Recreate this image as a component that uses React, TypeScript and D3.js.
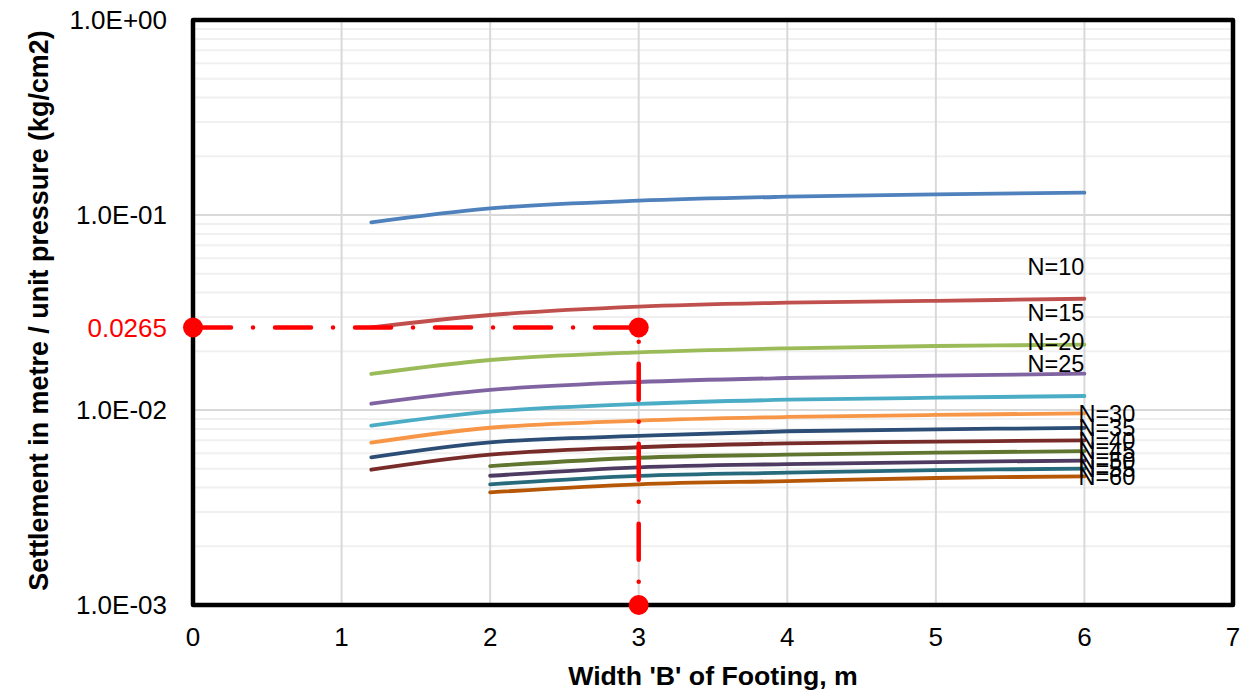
import React from "react";
import * as d3 from "d3";

const W = 1256;
const H = 691;

const xTicks = [0, 1, 2, 3, 4, 5, 6, 7];
const yMajorTicks = [1, 0.1, 0.01, 0.001];
const yTickLabels = ["1.0E+00", "1.0E-01", "1.0E-02", "1.0E-03"];

const xLong = [1.2, 2, 3, 4, 5, 6];
const xShort = [2, 3, 4, 5, 6];

const n5 = [0.0917, 0.1082, 0.1184, 0.1241, 0.1277, 0.1301];
const n10 = [0.0265, 0.0307, 0.0339, 0.0355, 0.0363, 0.0372];
const n15 = [0.0153, 0.01805, 0.01976, 0.02072, 0.02129, 0.02162];
const n20 = [0.01077, 0.01267, 0.01392, 0.01459, 0.01499, 0.01535];
const n25 = [0.00831, 0.0098, 0.01074, 0.01129, 0.01156, 0.0118];
const n30 = [0.0068, 0.00811, 0.00882, 0.00921, 0.00943, 0.00962];
const n35 = [0.00572, 0.00683, 0.00736, 0.00778, 0.00796, 0.00809];
const n40 = [0.00494, 0.0059, 0.00644, 0.00675, 0.00688, 0.00699];
const n45 = [0.00516, 0.00569, 0.0059, 0.00604, 0.00616];
const n50 = [0.0046, 0.00508, 0.00528, 0.00541, 0.0055];
const n55 = [0.00416, 0.00459, 0.00477, 0.00492, 0.005];
const n60 = [0.00378, 0.00416, 0.00432, 0.00448, 0.00457];

const seriesNames = ["N=5", "N=10", "N=15", "N=20", "N=25", "N=30", "N=35", "N=40", "N=45", "N=50", "N=55", "N=60"];
const seriesValues = [n5, n10, n15, n20, n25, n30, n35, n40, n45, n50, n55, n60];
const seriesX = [xLong, xLong, xLong, xLong, xLong, xLong, xLong, xLong, xShort, xShort, xShort, xShort];
const seriesColors = ["#4F81BD", "#C0504D", "#9BBB59", "#8064A2", "#4BACC6", "#F79646", "#2C4D75", "#772C2A", "#5F7530", "#4D3B62", "#276A7C", "#B65708"];
// label placement: "none", "above", "right"
const labelPlacement = ["none", "above", "above", "above", "above", "right", "right", "right", "right", "right", "right", "right"];

const refX = [0, 3, 3];
const refY = [0.0265, 0.0265, 0.001];
const refLabel = "0.0265";

const FONT = "'Liberation Sans', Arial, sans-serif";

export default function App() {
  const x = d3.scaleLinear().domain([0, 7]).range([193, 1233]);
  const y = d3.scaleLog().domain([0.001, 1]).range([605, 20]);

  const minorTicks: number[] = [];
  [0.001, 0.01, 0.1].forEach((d) => {
    for (let k = 2; k <= 9; k++) minorTicks.push(d * k);
  });

  const line = d3
    .line<[number, number]>()
    .x((d) => x(d[0]))
    .y((d) => y(d[1]))
    .curve(d3.curveCatmullRom.alpha(0.5));

  const refLine = d3
    .line<[number, number]>()
    .x((d) => x(d[0]))
    .y((d) => y(d[1]));
  const refPts: [number, number][] = refX.map((v, i) => [v, refY[i]]);

  return (
    <svg width={W} height={H} style={{ position: "absolute", left: 0, top: 0, background: "#fff" }} fontFamily={FONT}>
      <rect x={0} y={0} width={W} height={H} fill="#fff" />
      {minorTicks.map((t, i) => (
        <line key={"mn" + i} x1={x(0)} x2={x(7)} y1={y(t)} y2={y(t)} stroke="#f0f0f0" strokeWidth={2} />
      ))}
      {yMajorTicks.map((t, i) => (
        <line key={"mj" + i} x1={x(0)} x2={x(7)} y1={y(t)} y2={y(t)} stroke="#d9d9d9" strokeWidth={2} />
      ))}
      {xTicks.map((t, i) => (
        <line key={"vg" + i} x1={x(t)} x2={x(t)} y1={y(1)} y2={y(0.001)} stroke="#d9d9d9" strokeWidth={2} />
      ))}
      {seriesValues.map((vals, i) => {
        const pts: [number, number][] = vals.map((v, j) => [seriesX[i][j], v]);
        return (
          <path key={"s" + i} d={line(pts) || ""} fill="none" stroke={seriesColors[i]} strokeWidth={3.8} strokeLinecap="round" />
        );
      })}
      {seriesValues.map((vals, i) => {
        const lastX = seriesX[i][seriesX[i].length - 1];
        const lastV = vals[vals.length - 1];
        if (labelPlacement[i] === "above") {
          return (
            <text key={"l" + i} x={x(lastX)} y={y(lastV) - 32} dy="0.35em" textAnchor="end" fontSize={23.5} fill="#000">
              {seriesNames[i]}
            </text>
          );
        }
        if (labelPlacement[i] === "right") {
          return (
            <text key={"l" + i} x={x(lastX) - 6} y={y(lastV)} dy="0.35em" textAnchor="start" fontSize={23.5} fill="#000">
              {seriesNames[i]}
            </text>
          );
        }
        return null;
      })}
      <rect x={x(0)} y={y(1)} width={x(7) - x(0)} height={y(0.001) - y(1)} fill="none" stroke="#000" strokeWidth={4.5} strokeLinejoin="round" />
      <path
        d={refLine(refPts) || ""}
        fill="none"
        stroke="#ff0000"
        strokeWidth={4.5}
        strokeLinecap="round"
        strokeDasharray="36 22 0.01 22"
        strokeDashoffset={-2}
      />
      {refPts.map((p, i) => (
        <circle key={"rm" + i} cx={x(p[0])} cy={y(p[1])} r={10} fill="#ff0000" />
      ))}
      {yMajorTicks.map((t, i) => (
        <text key={"yt" + i} x={167} y={y(t)} dy="0.35em" textAnchor="end" fontSize={26} fill="#000">
          {yTickLabels[i]}
        </text>
      ))}
      <text x={167} y={y(refY[0])} dy="0.35em" textAnchor="end" fontSize={26} fill="#ff0000">
        {refLabel}
      </text>
      {xTicks.map((t, i) => (
        <text key={"xt" + i} x={x(t)} y={646} textAnchor="middle" fontSize={26} fill="#000">
          {String(t)}
        </text>
      ))}
      <text x={(x(0) + x(7)) / 2} y={685} textAnchor="middle" fontSize={26.7} fontWeight="bold" fill="#000">
        Width 'B' of Footing, m
      </text>
      <text
        transform={`translate(48, ${(y(1) + y(0.001)) / 2 - 2}) rotate(-90)`}
        textAnchor="middle"
        fontSize={26.9}
        fontWeight="bold"
        fill="#000"
      >
        Settlement in metre / unit pressure (kg/cm2)
      </text>
    </svg>
  );
}
